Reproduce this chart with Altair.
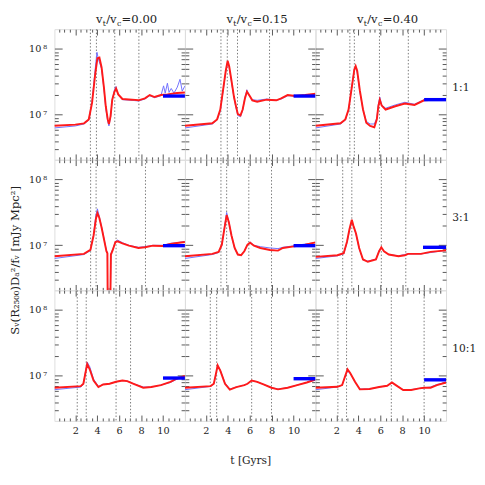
import altair as alt
import pandas as pd

# ---------------- data ----------------
COL_VALUES = ["0.00", "0.15", "0.40"]
ROW_LABELS = ["1:1", "3:1", "10:1"]
X_TICK_LABELS = [2, 4, 6, 8, 10]
Y_TITLE = "Sᵥ(R₂₅₀₀)Dₐ²/fᵥ [mJy Mpc²]"
X_TITLE = "t [Gyrs]"

# row 1 (1:1)
red_t_11 = [0.1, 2.0, 2.8, 3.23, 3.53, 3.82, 4.02, 4.2, 4.4, 4.61, 4.78, 4.96, 5.07, 5.22, 5.37, 5.57, 5.72, 5.92, 6.3, 7.18, 7.76, 8.35, 8.79, 9.23, 9.81, 10.4, 11.27, 12.0]
red_l_11 = [6.834, 6.85, 6.87, 6.93, 7.18, 7.62, 7.86, 7.87, 7.72, 7.42, 7.13, 6.93, 6.86, 6.98, 7.23, 7.35, 7.40, 7.31, 7.24, 7.23, 7.22, 7.25, 7.30, 7.27, 7.30, 7.31, 7.33, 7.34]
blue_t_11 = [0.1, 2.0, 2.8, 3.23, 3.53, 3.82, 3.98, 4.1, 4.4, 4.61, 4.78, 4.96, 5.07, 5.22, 5.37, 5.57, 5.7, 5.92, 6.3, 7.18, 7.76, 8.35, 8.79, 9.23, 9.81, 10.05, 10.2, 10.4, 10.55, 10.75, 11.0, 11.3, 11.55, 11.75, 12.0]
blue_l_11 = [6.80, 6.83, 6.86, 6.92, 7.2, 7.7, 7.95, 7.85, 7.70, 7.40, 7.10, 6.90, 6.83, 6.97, 7.22, 7.38, 7.43, 7.30, 7.23, 7.22, 7.21, 7.24, 7.29, 7.26, 7.29, 7.44, 7.33, 7.48, 7.34, 7.40, 7.33, 7.42, 7.54, 7.36, 7.44]

red_t_12 = [0.1, 2.59, 3.03, 3.32, 3.61, 3.82, 3.99, 4.13, 4.34, 4.57, 4.75, 4.92, 5.16, 5.36, 5.57, 5.75, 5.95, 6.24, 6.68, 7.55, 8.43, 8.87, 9.46, 10.18, 11.06, 12.0]
red_l_12 = [6.834, 6.87, 6.93, 7.08, 7.42, 7.67, 7.82, 7.74, 7.52, 7.27, 7.13, 7.01, 6.99, 7.08, 7.25, 7.35, 7.30, 7.22, 7.20, 7.23, 7.22, 7.25, 7.30, 7.285, 7.30, 7.32]
blue_t_12 = [0.1, 2.59, 3.03, 3.32, 3.61, 3.82, 3.99, 4.13, 4.34, 4.57, 4.75, 4.92, 5.16, 5.36, 5.57, 5.75, 5.95, 6.24, 6.68, 7.55, 8.43, 8.87, 9.46, 10.18, 11.06, 12.0]
blue_l_12 = [6.80, 6.86, 6.92, 7.06, 7.40, 7.66, 7.80, 7.72, 7.50, 7.26, 7.11, 6.99, 6.97, 7.07, 7.27, 7.38, 7.29, 7.23, 7.22, 7.24, 7.22, 7.24, 7.29, 7.28, 7.29, 7.30]

red_t_13 = [0.1, 2.38, 2.82, 3.11, 3.41, 3.64, 3.76, 3.9, 4.14, 4.43, 4.73, 5.08, 5.46, 5.69, 5.83, 5.96, 6.13, 6.49, 7.37, 8.24, 9.12, 10.0, 10.88, 12.0]
red_l_13 = [6.834, 6.87, 6.93, 7.08, 7.42, 7.69, 7.74, 7.67, 7.37, 7.08, 6.88, 6.83, 6.81, 6.93, 7.13, 7.23, 7.14, 7.08, 7.13, 7.17, 7.15, 7.22, 7.23, 7.23]
blue_t_13 = [0.1, 2.38, 2.82, 3.11, 3.41, 3.64, 3.76, 3.9, 4.14, 4.43, 4.73, 5.08, 5.46, 5.69, 5.83, 5.96, 6.13, 6.49, 7.37, 8.24, 9.12, 10.0, 10.88, 12.0]
blue_l_13 = [6.80, 6.86, 6.92, 7.07, 7.43, 7.70, 7.72, 7.64, 7.35, 7.08, 6.90, 6.86, 6.86, 6.95, 7.16, 7.27, 7.15, 7.10, 7.15, 7.19, 7.16, 7.23, 7.23, 7.23]

# row 2 (3:1)
red_t_21 = [0.1, 2.79, 3.38, 3.67, 3.88, 4.02, 4.19, 4.4, 4.61, 4.84, 4.93, 4.98, 5.15, 5.25, 5.42, 5.66, 5.86, 6.3, 6.89, 7.76, 8.35, 9.08, 9.96, 10.68, 11.27, 12.0]
red_l_21 = [6.834, 6.87, 6.93, 7.15, 7.40, 7.49, 7.42, 7.27, 7.10, 6.91, 6.88, 5.5, 5.5, 6.86, 6.93, 7.05, 7.06, 7.03, 6.995, 6.96, 6.97, 6.995, 6.99, 7.02, 7.035, 7.05]
blue_t_21 = [0.1, 2.79, 3.38, 3.67, 3.88, 4.02, 4.19, 4.4, 4.61, 4.84, 4.93, 4.98, 5.15, 5.25, 5.42, 5.66, 5.86, 6.3, 6.89, 7.76, 8.35, 9.08, 9.96, 10.68, 11.27, 12.0]
blue_l_21 = [6.80, 6.86, 6.92, 7.16, 7.46, 7.555, 7.44, 7.28, 7.11, 6.92, 6.89, 5.5, 5.5, 6.87, 6.94, 7.06, 7.08, 7.04, 7.00, 6.97, 6.98, 7.00, 7.00, 7.03, 7.04, 7.06]

red_t_22 = [0.1, 2.59, 3.17, 3.46, 3.69, 3.9, 4.1, 4.34, 4.63, 4.92, 5.22, 5.51, 5.8, 6.04, 6.39, 6.97, 7.85, 8.58, 9.02, 9.89, 11.06, 12.0]
red_l_22 = [6.834, 6.87, 6.90, 7.01, 7.25, 7.46, 7.35, 7.15, 6.96, 6.86, 6.85, 6.91, 7.01, 7.04, 6.995, 6.96, 6.93, 6.92, 6.96, 6.98, 7.01, 7.045]
blue_t_22 = [0.1, 2.59, 3.17, 3.46, 3.69, 3.9, 4.1, 4.34, 4.63, 4.92, 5.22, 5.51, 5.8, 6.04, 6.39, 6.97, 7.85, 8.58, 9.02, 9.89, 11.06, 12.0]
blue_l_22 = [6.80, 6.86, 6.89, 7.00, 7.26, 7.50, 7.36, 7.15, 6.95, 6.86, 6.85, 6.91, 7.01, 7.05, 7.00, 6.98, 6.96, 6.95, 6.97, 6.99, 7.02, 7.04]

red_t_23 = [0.1, 2.09, 2.67, 2.97, 3.2, 3.41, 3.55, 3.79, 4.08, 4.43, 4.87, 5.61, 5.9, 6.1, 6.34, 6.78, 7.66, 8.24, 8.54, 9.71, 10.59, 11.76, 12.0]
red_l_23 = [6.825, 6.85, 6.88, 7.055, 7.25, 7.39, 7.30, 7.18, 6.96, 6.785, 6.75, 6.785, 6.91, 6.97, 6.91, 6.86, 6.834, 6.85, 6.87, 6.87, 6.90, 6.92, 6.925]
blue_t_23 = [0.1, 2.09, 2.67, 2.97, 3.2, 3.41, 3.55, 3.79, 4.08, 4.43, 4.87, 5.61, 5.9, 6.1, 6.34, 6.78, 7.66, 8.24, 8.54, 9.71, 10.59, 11.76, 12.0]
blue_l_23 = [6.80, 6.84, 6.87, 7.04, 7.23, 7.36, 7.30, 7.17, 6.95, 6.78, 6.76, 6.79, 6.92, 6.96, 6.91, 6.86, 6.84, 6.86, 6.87, 6.87, 6.89, 6.92, 6.92]

# row 3 (10:1)
red_t_31 = [0.1, 2.5, 2.74, 2.94, 3.09, 3.32, 3.67, 4.11, 4.54, 5.13, 5.72, 6.3, 6.74, 7.32, 8.2, 8.93, 9.81, 10.68, 11.27, 12.0]
red_l_31 = [6.82, 6.844, 6.88, 7.055, 7.18, 7.10, 6.93, 6.83, 6.87, 6.88, 6.91, 6.93, 6.92, 6.88, 6.82, 6.83, 6.86, 6.91, 6.96, 7.0]
blue_t_31 = [0.1, 2.5, 2.74, 2.94, 3.09, 3.32, 3.67, 4.11, 4.54, 5.13, 5.72, 6.3, 6.74, 7.32, 8.2, 8.93, 9.81, 10.68, 11.27, 12.0]
blue_l_31 = [6.79, 6.83, 6.87, 7.07, 7.21, 7.14, 6.95, 6.84, 6.87, 6.88, 6.91, 6.93, 6.92, 6.88, 6.83, 6.83, 6.86, 6.90, 6.95, 6.99]

red_t_32 = [0.1, 2.44, 2.73, 2.94, 3.08, 3.32, 3.75, 4.19, 4.78, 5.51, 5.8, 6.18, 6.68, 7.26, 7.99, 8.58, 9.46, 10.33, 11.2, 12.0]
red_l_32 = [6.82, 6.844, 6.88, 7.045, 7.16, 7.08, 6.88, 6.79, 6.83, 6.86, 6.88, 6.93, 6.91, 6.87, 6.82, 6.795, 6.82, 6.86, 6.90, 6.945]
blue_t_32 = [0.1, 2.44, 2.73, 2.94, 3.08, 3.32, 3.75, 4.19, 4.78, 5.51, 5.8, 6.18, 6.68, 7.26, 7.99, 8.58, 9.46, 10.33, 11.2, 12.0]
blue_l_32 = [6.79, 6.84, 6.88, 7.04, 7.16, 7.09, 6.89, 6.80, 6.83, 6.86, 6.88, 6.93, 6.91, 6.87, 6.82, 6.80, 6.82, 6.86, 6.90, 6.94]

red_t_33 = [0.1, 2.09, 2.53, 2.82, 3.02, 3.26, 3.7, 4.14, 5.02, 5.9, 6.63, 7.07, 7.42, 8.09, 8.82, 9.56, 10.0, 10.59, 11.17, 12.0]
red_l_33 = [6.82, 6.834, 6.86, 7.005, 7.10, 7.045, 6.91, 6.795, 6.80, 6.83, 6.85, 6.90, 6.86, 6.785, 6.785, 6.81, 6.82, 6.82, 6.86, 6.90]
blue_t_33 = [0.1, 2.09, 2.53, 2.82, 3.02, 3.26, 3.7, 4.14, 5.02, 5.9, 6.63, 7.07, 7.42, 8.09, 8.82, 9.56, 10.0, 10.59, 11.17, 12.0]
blue_l_33 = [6.79, 6.83, 6.86, 7.00, 7.07, 7.04, 6.91, 6.80, 6.80, 6.83, 6.85, 6.89, 6.86, 6.79, 6.79, 6.81, 6.82, 6.83, 6.87, 6.90]

# dotted epochs (t, Gyr)
epochs_11 = [3.38, 3.93, 5.6, 7.8]
epochs_12 = [3.38, 3.96, 4.89, 7.81]
epochs_13 = [3.23, 3.64, 5.93, 8.56]
epochs_21 = [3.40, 3.90, 5.72, 8.40]
epochs_22 = [3.38, 3.90, 5.92, 7.99]
epochs_23 = [2.58, 3.41, 6.10, 8.33]
epochs_31 = [2.18, 3.0, 5.72, 7.04]
epochs_32 = [2.41, 2.99, 6.18, 7.99]
epochs_33 = [2.14, 2.93, 7.01, 10.0]

# thick blue reference bars (log10 level, start, end)
bar_level = [[7.285, 7.285, 7.23], [6.995, 6.995, 6.97], [6.967, 6.957, 6.94]]
bar_start = [[10.0, 10.0, 10.0], [10.0, 10.0, 9.9], [10.0, 10.0, 10.0]]
bar_end = [[12.0, 12.0, 12.0], [12.0, 12.0, 12.0], [12.0, 12.0, 12.0]]

RED = [[(red_t_11, red_l_11), (red_t_12, red_l_12), (red_t_13, red_l_13)],
       [(red_t_21, red_l_21), (red_t_22, red_l_22), (red_t_23, red_l_23)],
       [(red_t_31, red_l_31), (red_t_32, red_l_32), (red_t_33, red_l_33)]]
BLUE = [[(blue_t_11, blue_l_11), (blue_t_12, blue_l_12), (blue_t_13, blue_l_13)],
        [(blue_t_21, blue_l_21), (blue_t_22, blue_l_22), (blue_t_23, blue_l_23)],
        [(blue_t_31, blue_l_31), (blue_t_32, blue_l_32), (blue_t_33, blue_l_33)]]
EPOCHS = [[epochs_11, epochs_12, epochs_13],
          [epochs_21, epochs_22, epochs_23],
          [epochs_31, epochs_32, epochs_33]]

# ---------------- layout / style ----------------
W, H = 135, 135
XDOM = [0.1, 12.0]
YDOM = [2.07e6, 2.0e8]
FRAME = "#555555"
TXT = "#222222"
DOT = "#777777"
FONT = "DejaVu Serif"
RED_C = "#ff1a1a"
BLUE_C = "#6f6fff"
BAR_C = "#0000ff"

x_minor = [k / 2 for k in range(1, 24) if k % 4 != 0]
y_minor = [k * 10 ** e for e in (6, 7) for k in range(2, 10) if YDOM[0] < k * 10 ** e < YDOM[1]]
y_major = [1e7, 1e8]


def tick_x(orient, values, size):
    return alt.Axis(orient=orient, offset=-H, values=values, tickSize=size, tickColor=FRAME,
                    tickWidth=1, labels=False, domain=False, grid=False, title=None)


def tick_y(orient, values, size):
    return alt.Axis(orient=orient, offset=-W, values=values, tickSize=size, tickColor=FRAME,
                    tickWidth=1, labels=False, domain=False, grid=False, title=None)


def panel(r, c):
    rt, rl = RED[r][c]
    bt, bl = BLUE[r][c]
    red = pd.DataFrame({"t": rt, "S": [10 ** v for v in rl]})
    blue = pd.DataFrame({"t": bt, "S": [10 ** v for v in bl]})
    ep = pd.DataFrame({"t": EPOCHS[r][c]})
    bar = pd.DataFrame({"t0": [bar_start[r][c]], "t1": [bar_end[r][c]],
                        "S": [10 ** bar_level[r][c]]})
    xs = alt.Scale(domain=XDOM, nice=False, zero=False)
    ys = alt.Scale(type="log", domain=YDOM, nice=False)

    rules = alt.Chart(ep).mark_rule(color=DOT, strokeWidth=1, strokeDash=[1.5, 2]).encode(
        x=alt.X("t:Q", scale=xs, axis=tick_x("top", x_minor, 3)))
    bline = alt.Chart(blue).mark_line(color=BLUE_C, strokeWidth=1, clip=True).encode(
        x=alt.X("t:Q", scale=xs, axis=tick_x("top", X_TICK_LABELS, 6)),
        y=alt.Y("S:Q", scale=ys, axis=tick_y("right", y_minor, 4)))
    rline = alt.Chart(red).mark_line(color=RED_C, strokeWidth=2, clip=True).encode(
        x=alt.X("t:Q", scale=xs, axis=tick_x("bottom", x_minor, 3)),
        y=alt.Y("S:Q", scale=ys, axis=tick_y("right", y_major, 8)))
    bars = alt.Chart(bar).mark_rule(color=BAR_C, strokeWidth=3.5).encode(
        x=alt.X("t0:Q", scale=xs, axis=tick_x("bottom", X_TICK_LABELS, 6)),
        x2="t1:Q",
        y=alt.Y("S:Q", scale=ys, axis=tick_y("left", y_minor, 4)))

    if r == 2:
        xlab = alt.Axis(orient="bottom", values=X_TICK_LABELS, format="d", ticks=False,
                        domain=False, grid=False, labelFont=FONT, labelFontSize=10,
                        labelColor=TXT, labelPadding=5, labelFlush=False,
                        title=X_TITLE if c == 1 else None, titleFont=FONT,
                        titleFontSize=11, titleFontWeight="normal", titleColor=TXT,
                        titlePadding=20)
    else:
        xlab = None
    inv1 = alt.Chart(red).mark_line(opacity=0).encode(
        x=alt.X("t:Q", scale=xs, axis=xlab),
        y=alt.Y("S:Q", scale=ys, axis=tick_y("left", y_major, 8)))

    layers = [rules, bline, rline, bars, inv1]

    if c == 0:
        ylab = alt.Axis(orient="left", values=y_major, ticks=False, domain=False, grid=False,
                        labelExpr="datum.value >= 1e8 ? '10\u2009⁸' : '10\u2009⁷'",
                        labelFont=FONT, labelFontSize=10, labelColor=TXT, labelPadding=8,
                        title=Y_TITLE if r == 1 else None, titleFont=FONT, titleFontSize=12,
                        titleFontWeight="normal", titleColor=TXT, titlePadding=7,
                        titleY=H / 2 + 36)
        layers.append(alt.Chart(red).mark_line(opacity=0).encode(
            x=alt.X("t:Q", scale=xs, axis=None),
            y=alt.Y("S:Q", scale=ys, axis=ylab)))
    elif c == 2:
        ylab = alt.Axis(orient="right", ticks=False, labels=False, domain=False, grid=False,
                        title=ROW_LABELS[r], titleAngle=0, titleAlign="left",
                        titleBaseline="middle", titleFont=FONT, titleFontSize=11,
                        titleFontWeight="normal", titleColor=TXT, titlePadding=6,
                        titleY=60)
        layers.append(alt.Chart(red).mark_line(opacity=0).encode(
            x=alt.X("t:Q", scale=xs, axis=None),
            y=alt.Y("S:Q", scale=ys, axis=ylab)))

    if r == 0:
        x0 = 43
        pieces = [("v", 0, 12, 0), ("t", 7, 8, 3), ("/", 10.5, 12, 0), ("v", 14.5, 12, 0),
                  ("c", 21.6, 8, 3), ("=" + COL_VALUES[c], 26.5, 12, 0)]
        for txt, dx, size, dy in pieces:
            layers.append(alt.Chart(alt.Data(values=[{}])).mark_text(
                text=txt, align="left", baseline="alphabetic", font=FONT, fontSize=size,
                color=TXT, dy=dy).encode(x=alt.value(x0 + dx), y=alt.value(-6)))

    return alt.layer(*layers).resolve_axis(x="independent", y="independent").properties(
        width=W, height=H)


panels = [panel(r, c) for r in range(3) for c in range(3)]
chart = alt.concat(*panels, columns=3, spacing=0, bounds="flush").properties(
    padding={"left": 0, "top": -3, "right": 0, "bottom": 0}
).configure_view(stroke=FRAME, strokeWidth=1).configure(font=FONT, background="white")

chart.save("out.html", embed_options={"renderer": "svg", "actions": False})
